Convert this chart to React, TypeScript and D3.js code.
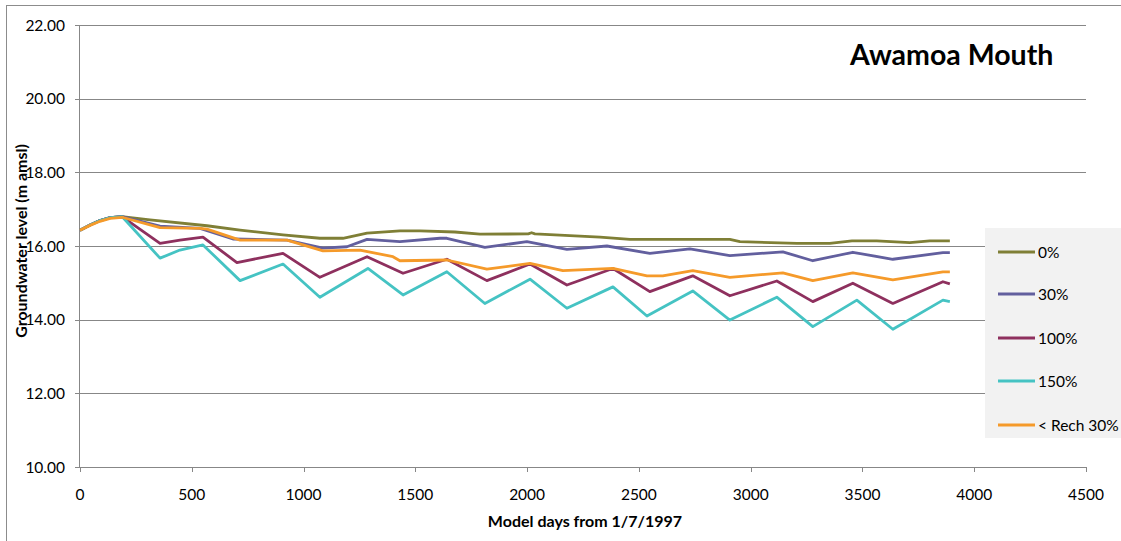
import React from "react";
import * as d3 from "d3";

const seriesNames = ["0%", "30%", "100%", "150%", "< Rech 30%"];
const seriesColors = ["#7f7f36", "#625f9e", "#8e305e", "#45c3c3", "#f59a2a"];

const days0 = [0, 45, 89, 135, 188, 313, 568, 716, 908, 1073, 1176, 1284, 1431, 1521, 1677, 1789, 2005, 2020, 2035, 2191, 2326, 2460, 2907, 2952, 3207, 3354, 3453, 3564, 3712, 3801, 3891];
const vals0 = [16.43, 16.57, 16.69, 16.77, 16.8, 16.71, 16.55, 16.43, 16.3, 16.21, 16.21, 16.35, 16.41, 16.41, 16.38, 16.32, 16.33, 16.36, 16.33, 16.28, 16.24, 16.18, 16.18, 16.12, 16.07, 16.07, 16.14, 16.14, 16.09, 16.14, 16.14];

const days30 = [0, 45, 89, 135, 188, 358, 537, 684, 926, 1087, 1194, 1284, 1431, 1610, 1641, 1811, 1999, 2178, 2357, 2549, 2728, 2907, 3144, 3278, 3457, 3636, 3860, 3891];
const vals30 = [16.43, 16.57, 16.69, 16.77, 16.8, 16.54, 16.48, 16.19, 16.16, 15.94, 15.98, 16.18, 16.12, 16.21, 16.21, 15.96, 16.12, 15.91, 16.0, 15.8, 15.92, 15.74, 15.84, 15.6, 15.83, 15.64, 15.82, 15.82];

const days100 = [0, 45, 89, 135, 188, 358, 447, 550, 702, 908, 1073, 1284, 1445, 1641, 1820, 2013, 2178, 2384, 2549, 2741, 2907, 3117, 3278, 3457, 3636, 3860, 3891];
const vals100 = [16.43, 16.57, 16.69, 16.77, 16.8, 16.07, 16.16, 16.24, 15.55, 15.8, 15.15, 15.71, 15.26, 15.64, 15.06, 15.51, 14.94, 15.39, 14.76, 15.19, 14.65, 15.05, 14.49, 14.99, 14.44, 15.03, 14.97];

const days150 = [0, 45, 89, 135, 188, 358, 447, 550, 716, 908, 1073, 1288, 1445, 1641, 1811, 2013, 2178, 2384, 2536, 2741, 2907, 3117, 3278, 3475, 3636, 3860, 3891];
const vals150 = [16.43, 16.57, 16.69, 16.77, 16.8, 15.67, 15.89, 16.03, 15.06, 15.51, 14.61, 15.39, 14.67, 15.3, 14.44, 15.1, 14.31, 14.89, 14.1, 14.78, 13.99, 14.61, 13.81, 14.53, 13.74, 14.53, 14.49];

const daysR = [0, 45, 89, 135, 188, 358, 537, 568, 716, 926, 1087, 1252, 1400, 1431, 1641, 1820, 2013, 2160, 2384, 2536, 2607, 2741, 2907, 3144, 3278, 3457, 3636, 3860, 3891];
const valsR = [16.43, 16.56, 16.67, 16.75, 16.78, 16.5, 16.48, 16.46, 16.16, 16.16, 15.87, 15.89, 15.71, 15.6, 15.62, 15.37, 15.53, 15.33, 15.39, 15.19, 15.19, 15.33, 15.15, 15.27, 15.06, 15.27, 15.08, 15.3, 15.3];

const xTicks = [0, 500, 1000, 1500, 2000, 2500, 3000, 3500, 4000, 4500];
const yTicks = [10, 12, 14, 16, 18, 20, 22];

const allDays = [days0, days30, days100, days150, daysR];
const allVals = [vals0, vals30, vals100, vals150, valsR];

const FONT = "Lato, 'Open Sans', sans-serif";

export default function App() {
  const x = d3.scaleLinear().domain([0, 4500]).range([80, 1086]);
  const y = d3.scaleLinear().domain([10, 22]).range([467, 25]);
  const line = d3
    .line<[number, number]>()
    .x((d) => x(d[0]))
    .y((d) => y(d[1]));

  const legendY = [252, 294, 338, 381, 425];

  return (
    <div style={{ position: "absolute", left: 0, top: 0 }}>
      <svg width={1121} height={541} style={{ display: "block", background: "#fff" }}>
        <rect x={6.5} y={5.5} width={1200} height={600} fill="#fff" stroke="#8c8c8c" strokeWidth={1} />
        {yTicks.map((t) => (
          <g key={"y" + t}>
            <line x1={75} x2={1086} y1={Math.round(y(t)) + 0.5} y2={Math.round(y(t)) + 0.5} stroke="#878787" strokeWidth={1} />
            <text x={65} y={y(t) + 5.5} textAnchor="end" fontFamily={FONT} fontSize={15.5} fill="#000">
              {t.toFixed(2)}
            </text>
          </g>
        ))}
        <line x1={79.5} x2={79.5} y1={25} y2={467} stroke="#878787" strokeWidth={1} />
        {xTicks.map((t) => (
          <g key={"x" + t}>
            <line x1={Math.round(x(t)) + 0.5} x2={Math.round(x(t)) + 0.5} y1={467} y2={472} stroke="#878787" strokeWidth={1} />
            <text x={x(t)} y={500} textAnchor="middle" fontFamily={FONT} fontSize={15.5} fill="#000">
              {t}
            </text>
          </g>
        ))}
        {allDays.map((ds, i) => (
          <path
            key={"s" + i}
            d={line(ds.map((d, j) => [d, allVals[i][j]] as [number, number])) || ""}
            fill="none"
            stroke={seriesColors[i]}
            strokeWidth={2.8}
            strokeLinejoin="round"
          />
        ))}
        <rect x={985} y={228} width={140} height={210} fill="#f2f2f2" />
        {seriesNames.map((n, i) => (
          <g key={"l" + i}>
            <line x1={998} x2={1035} y1={legendY[i]} y2={legendY[i]} stroke={seriesColors[i]} strokeWidth={2.8} />
            <text x={1038} y={legendY[i] + 5.5} fontFamily={FONT} fontSize={15.5} fill="#000">
              {n}
            </text>
          </g>
        ))}
        <text x={850} y={65} fontFamily={FONT} fontWeight="bold" fontSize={28.5} fill="#000">
          Awamoa Mouth
        </text>
        <text
          transform={`translate(27,241) rotate(-90)`}
          textAnchor="middle"
          fontFamily={FONT}
          fontWeight="bold"
          fontSize={16}
          fill="#000"
        >
          Groundwater level (m amsl)
        </text>
        <text x={585} y={527} textAnchor="middle" fontFamily={FONT} fontWeight="bold" fontSize={16} fill="#000">
          Model days from 1/7/1997
        </text>
      </svg>
    </div>
  );
}
